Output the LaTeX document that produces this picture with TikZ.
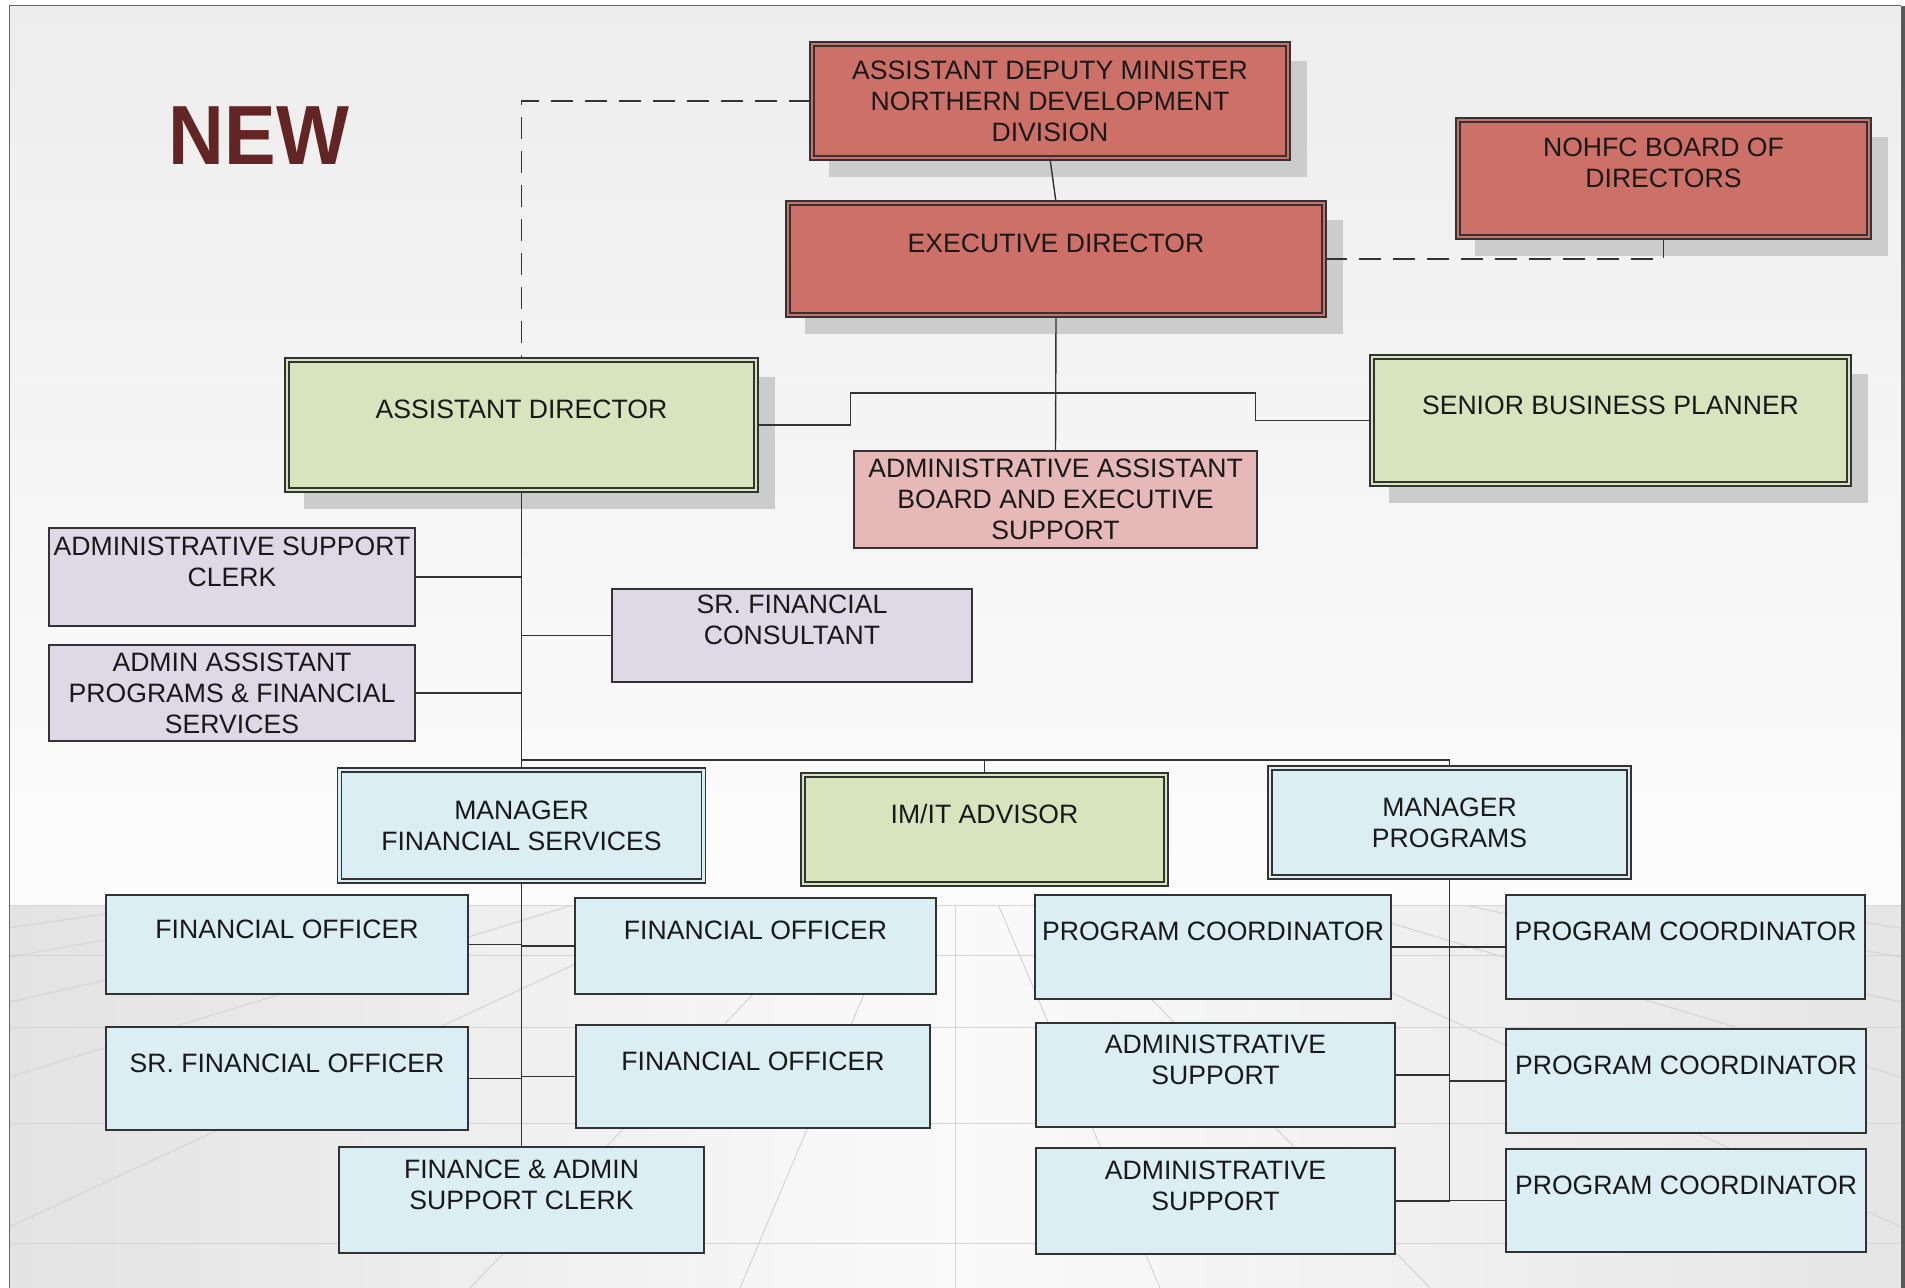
\documentclass[tikz,border=0pt]{standalone}
\usepackage{fontspec}
\setmainfont{Liberation Sans}
\usetikzlibrary{backgrounds}

\definecolor{execred}{HTML}{CD7168}
\definecolor{leadgreen}{HTML}{D7E4BD}
\definecolor{supportpink}{HTML}{E6B8B7}
\definecolor{staffviolet}{HTML}{DFD8E6}
\definecolor{unitblue}{HTML}{DAEEF3}
\definecolor{newtitle}{HTML}{632523}
\definecolor{shadowgray}{HTML}{CCCCCC}

\tikzset{
  post/.style={draw=black!80, line width=0.8pt, inner sep=0pt, align=center,
    font=\fontsize{13.3}{15.5}\selectfont, text=black!90},
  seniorpost/.style={post, line width=0.75pt, fill=#1, double=#1, double distance=1.3pt},
  boxsize/.style 2 args={minimum width=#1, minimum height=#2},
  link/.style={draw=black!80, line width=0.7pt},
  dashlink/.style={draw=black!80, line width=0.7pt, dash pattern=on 11pt off 6pt},
  floorline/.style={draw=black!17, line width=0.5pt}
}

\begin{document}
\begin{tikzpicture}[x=0.5pt, y=-0.5pt]
    \useasboundingbox (0,0) rectangle (1905,1288);

    \begin{scope}[on background layer]
        \fill[white] (0,0) rectangle (1905,1288);
        \shade[top color=black!7, bottom color=black!1] (9,6) rectangle (1901,905);
        \shade[left color=black!11, right color=black!10, middle color=black!2] (9,905) rectangle (1901,1288);
        \begin{scope}
            \clip (9,905) rectangle (1901,1288);
            \foreach \y in {905,955,1027,1123,1243}
                \draw[floorline] (9,\y) -- (1901,\y);
            \draw[floorline] (955,905) -- (955,1288);
            \foreach \y in {928,957,1002,1077,1227} {
                \draw[floorline] (950,790) -- (9,\y);
                \draw[floorline] (950,790) -- (1901,\y);
            }
            \foreach \x in {470,740,1160,1430}
                \draw[floorline] (950,790) -- (\x,1288);
        \end{scope}
        \draw[black!60, line width=0.5pt] (9,1288) -- (9,6) -- (1901,6);
        \fill[black!65] (1901,6) rectangle (1905,1288);
    \end{scope}

    \node[font=\fontsize{42}{42}\selectfont\bfseries, text=newtitle, xscale=0.92] (newtag) at (259,136) {NEW};

    % top of the division
    \node[seniorpost=execred, boxsize={238pt}{57pt}] (adm) at (1050,101)
        {ASSISTANT DEPUTY MINISTER\\NORTHERN DEVELOPMENT\\DIVISION};
    \node[seniorpost=execred, boxsize={268pt}{56pt}] (exec) at (1056,259)
        {EXECUTIVE DIRECTOR\\\mbox{}};
    \node[seniorpost=execred, boxsize={205.5pt}{58.5pt}] (board) at (1663.5,178.5)
        {NOHFC BOARD OF\\DIRECTORS\\\mbox{}};
    \node[seniorpost=leadgreen, boxsize={234.5pt}{65pt}] (asstdir) at (521.5,425)
        {ASSISTANT DIRECTOR\\\mbox{}};
    \node[seniorpost=leadgreen, boxsize={238.5pt}{63.5pt}] (planner) at (1610.5,420.5)
        {SENIOR BUSINESS PLANNER\\\mbox{}};
    \node[post, fill=supportpink, boxsize={201.5pt}{48.5pt}] (execadmin) at (1055.5,499.5)
        {ADMINISTRATIVE ASSISTANT\\BOARD AND EXECUTIVE\\SUPPORT};

    % assistant director's staff
    \node[post, fill=staffviolet, boxsize={183pt}{49pt}] (clerk) at (232,577)
        {ADMINISTRATIVE SUPPORT\\CLERK\\\mbox{}};
    \node[post, fill=staffviolet, boxsize={183pt}{48pt}] (progadmin) at (232,693)
        {ADMIN ASSISTANT\\PROGRAMS \& FINANCIAL\\SERVICES};
    \node[post, fill=staffviolet, boxsize={180pt}{46.5pt}] (consult) at (792,635.5)
        {SR. FINANCIAL\\CONSULTANT\\\mbox{}};
    \node[seniorpost=unitblue, boxsize={182pt}{55.5pt}] (finmgr) at (521.5,825.5)
        {MANAGER\\FINANCIAL SERVICES};
    \node[seniorpost=leadgreen, boxsize={181.5pt}{54.5pt}] (imit) at (984.5,829.5)
        {IM/IT ADVISOR\\\mbox{}};
    \node[seniorpost=unitblue, boxsize={179.5pt}{54.5pt}] (progmgr) at (1449.5,822.5)
        {MANAGER\\PROGRAMS};

    % financial services
    \node[post, fill=unitblue, boxsize={181pt}{49.5pt}] (fo1) at (287,944.5) {FINANCIAL OFFICER\\\mbox{}};
    \node[post, fill=unitblue, boxsize={180.5pt}{48pt}] (fo2) at (755.5,946) {FINANCIAL OFFICER\\\mbox{}};
    \node[post, fill=unitblue, boxsize={181pt}{51.5pt}] (sfo) at (287,1078.5) {SR. FINANCIAL OFFICER\\\mbox{}};
    \node[post, fill=unitblue, boxsize={177pt}{51.5pt}] (fo3) at (753,1076.5) {FINANCIAL OFFICER\\\mbox{}};
    \node[post, fill=unitblue, boxsize={182.5pt}{53pt}] (fasc) at (521.5,1200) {FINANCE \& ADMIN\\SUPPORT CLERK\\\mbox{}};

    % programs
    \node[post, fill=unitblue, boxsize={178pt}{52pt}] (pc1) at (1213,947) {PROGRAM COORDINATOR\\\mbox{}};
    \node[post, fill=unitblue, boxsize={179.5pt}{52pt}] (as1) at (1215.5,1075) {ADMINISTRATIVE\\SUPPORT\\\mbox{}};
    \node[post, fill=unitblue, boxsize={179.5pt}{53pt}] (as2) at (1215.5,1201) {ADMINISTRATIVE\\SUPPORT\\\mbox{}};
    \node[post, fill=unitblue, boxsize={179.5pt}{52pt}] (pc2) at (1685.5,947) {PROGRAM COORDINATOR\\\mbox{}};
    \node[post, fill=unitblue, boxsize={180pt}{52pt}] (pc3) at (1686,1081) {PROGRAM COORDINATOR\\\mbox{}};
    \node[post, fill=unitblue, boxsize={180pt}{51.5pt}] (pc4) at (1686,1200.5) {PROGRAM COORDINATOR\\\mbox{}};

    \begin{scope}[on background layer]
        \foreach \n in {adm,exec,board,asstdir,planner}
            \fill[shadowgray] ([shift={(18,18)}]\n.south west) rectangle ([shift={(18,18)}]\n.north east);
    \end{scope}

    % reporting lines
    \draw[link] (adm.south) -- (exec.north);
    \draw[link] (exec.south) -- (execadmin.north);
    \coordinate (execbus) at (1056,393);
    \draw[link] (asstdir.east) -- ++(94,0) |- (execbus);
    \draw[link] (planner.west) -- ++(-116,0) |- (execbus);
    \draw[dashlink] (adm.west) -| (asstdir.north);
    \draw[dashlink] (exec.east) -| (board.south);

    \draw[link] (asstdir.south) -- (finmgr.north);
    \foreach \n in {clerk,progadmin}
        \draw[link] (\n.east) -- (\n.east -| asstdir.south);
    \draw[link] (consult.west) -- (consult.west -| asstdir.south);
    \coordinate (mgrbus) at (521.5,760);
    \draw[link] (mgrbus) -| (progmgr.north);
    \draw[link] (imit.north) -- (imit.north |- mgrbus);

    \draw[link] (finmgr.south) -- (fasc.north);
    \foreach \n in {fo1,sfo}
        \draw[link] (\n.east) -- (\n.east -| finmgr.south);
    \foreach \n in {fo2,fo3}
        \draw[link] (\n.west) -- (\n.west -| finmgr.south);

    \draw[link] (progmgr.south) -- (progmgr.south |- as2.east);
    \foreach \n in {pc1,as1,as2}
        \draw[link] (\n.east) -- (\n.east -| progmgr.south);
    \foreach \n in {pc2,pc3,pc4}
        \draw[link] (\n.west) -- (\n.west -| progmgr.south);
\end{tikzpicture}
\end{document}
